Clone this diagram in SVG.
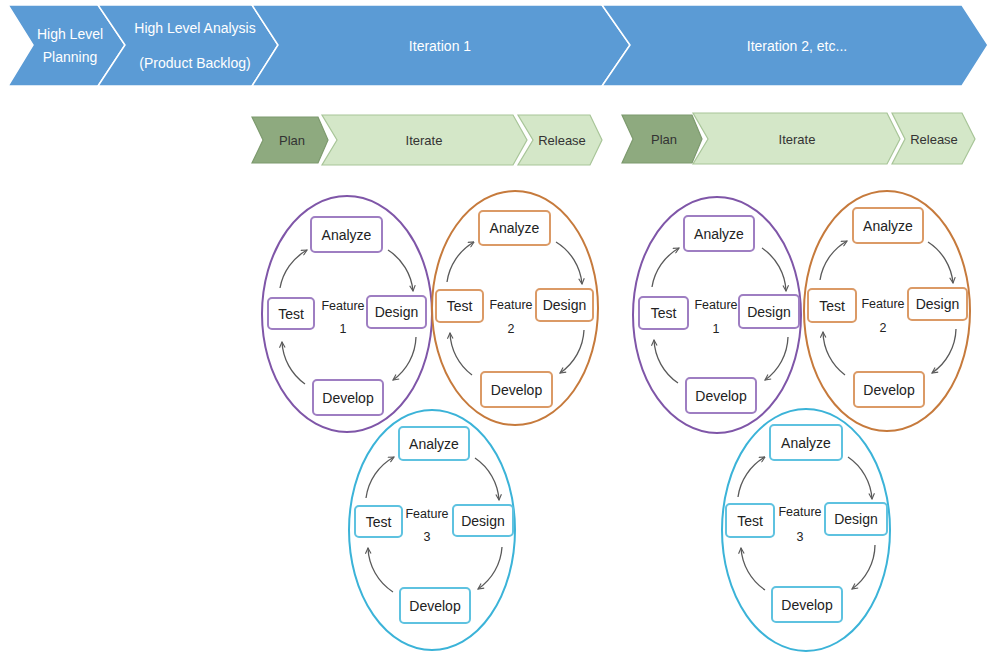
<svg xmlns="http://www.w3.org/2000/svg" width="989" height="653" viewBox="0 0 989 653">
<style>
.band{fill:#5B9BD5;stroke:#FFFFFF;stroke-width:1.5}
.bt{fill:#FFFFFF;font-family:"Liberation Sans",Arial,sans-serif;font-size:14px;text-anchor:middle}
.plan{fill:#8EAA7F;stroke:#7D9A6E;stroke-width:1.2}
.it{fill:#D4E7C8;stroke:#A8C598;stroke-width:1.2}
.gt{fill:#333333;font-family:"Liberation Sans",Arial,sans-serif;font-size:13px;text-anchor:middle}
.bx{fill:#FFFFFF;stroke-width:2}
.t{fill:#222222;font-family:"Liberation Sans",Arial,sans-serif;font-size:14px;text-anchor:middle}
.ft{fill:#222222;font-family:"Liberation Sans",Arial,sans-serif;font-size:12.5px;text-anchor:middle}
.ep{fill:none;stroke:#7F56A8;stroke-width:2}
.eo{fill:none;stroke:#C67A3C;stroke-width:2}
.ec{fill:none;stroke:#3BB3D8;stroke-width:2}
.p .bx{stroke:#9E7EC2}
.o .bx{stroke:#DB9A66}
.c .bx{stroke:#5EC2E0}
.arr{fill:none;stroke:#595959;stroke-width:1.3;marker-end:url(#ah)}
</style>
<defs>
<marker id="ah" viewBox="0 0 10 10" refX="9" refY="5" markerWidth="7" markerHeight="7" markerUnits="userSpaceOnUse" orient="auto">
<path d="M1,1 L9,5 L1,9" fill="none" stroke="#595959" stroke-width="1.6"/>
</marker>
</defs>
<rect width="989" height="653" fill="#FFFFFF"/>

<g id="phases">
<g id="phase-planning"><path class="band" d="M8,5 L98,5 L125,45 L98,86 L8,86 L33,45 Z"/><text class="bt" x="70" y="39">High Level</text><text class="bt" x="70" y="62">Planning</text></g>
<g id="phase-analysis"><path class="band" d="M98,5 L252,5 L278,45 L252,86 L98,86 L125,45 Z"/><text class="bt" x="195" y="33">High Level Analysis</text><text class="bt" x="195" y="68">(Product Backlog)</text></g>
<g id="phase-iter1"><path class="band" d="M252,5 L602,5 L630,45 L602,86 L252,86 L278,45 Z"/><text class="bt" x="440" y="51">Iteration 1</text></g>
<g id="phase-iter2"><path class="band" d="M602,5 L962,5 L988,45 L962,86 L602,86 L630,45 Z"/><text class="bt" x="797" y="51">Iteration 2, etc...</text></g>
</g>

<g id="steps1">
<g id="s1-plan"><path class="plan" d="M252,117 L318,117 L328,140 L318,163 L252,163 L263,140 Z"/><text class="gt" x="292" y="145">Plan</text></g>
<g id="s1-iterate"><path class="it" d="M322,115 L513,115 L527,140 L513,165 L322,165 L337,140 Z"/><text class="gt" x="424" y="145">Iterate</text></g>
<g id="s1-release"><path class="it" d="M518,115 L590,115 L602,140 L590,165 L518,165 L533,140 Z"/><text class="gt" x="562" y="145">Release</text></g>
</g>
<g id="steps2">
<g id="s2-plan"><path class="plan" d="M622,115 L692,115 L702,139 L692,163 L622,163 L633,139 Z"/><text class="gt" x="664" y="144">Plan</text></g>
<g id="s2-iterate"><path class="it" d="M693,113 L887,113 L900,139 L887,164 L693,164 L708,139 Z"/><text class="gt" x="797" y="144">Iterate</text></g>
<g id="s2-release"><path class="it" d="M892,113 L962,113 L975,139 L962,164 L892,164 L905,139 Z"/><text class="gt" x="934" y="144">Release</text></g>
</g>

<g id="ellipses">
<ellipse id="L-F1-ring" class="ep" cx="347" cy="314" rx="85" ry="118"/>
<ellipse id="L-F2-ring" class="eo" cx="515" cy="308" rx="83" ry="117"/>
<ellipse id="L-F3-ring" class="ec" cx="432" cy="530" rx="83" ry="120"/>
<ellipse id="R-F1-ring" class="ep" cx="717" cy="315" rx="84" ry="118"/>
<ellipse id="R-F2-ring" class="eo" cx="887" cy="311" rx="83" ry="120"/>
<ellipse id="R-F3-ring" class="ec" cx="806" cy="530" rx="84" ry="121"/>
</g>

<g id="connectors">
<path class="arr" d="M388,250 A55,55 0 0 1 413,291"/>
<path class="arr" d="M416,337 A55,55 0 0 1 393,380"/>
<path class="arr" d="M305,384 A55,55 0 0 1 282,342"/>
<path class="arr" d="M280,288 A55,55 0 0 1 307,250"/>

<path class="arr" d="M556,242 A55,55 0 0 1 582,284"/>
<path class="arr" d="M584,330 A55,55 0 0 1 560,373"/>
<path class="arr" d="M472,375 A55,55 0 0 1 450,333"/>
<path class="arr" d="M447,282 A55,55 0 0 1 474,242"/>

<path class="arr" d="M475,458 A55,55 0 0 1 499,500"/>
<path class="arr" d="M502,547 A55,55 0 0 1 478,589"/>
<path class="arr" d="M393,592 A55,55 0 0 1 368,548"/>
<path class="arr" d="M366,498 A55,55 0 0 1 394,457"/>

<path class="arr" d="M762,248 A55,55 0 0 1 786,291"/>
<path class="arr" d="M788,337 A55,55 0 0 1 765,380"/>
<path class="arr" d="M678,383 A55,55 0 0 1 654,340"/>
<path class="arr" d="M652,287 A55,55 0 0 1 679,248"/>

<path class="arr" d="M928,242 A55,55 0 0 1 953,283"/>
<path class="arr" d="M956,329 A55,55 0 0 1 932,373"/>
<path class="arr" d="M845,375 A55,55 0 0 1 823,332"/>
<path class="arr" d="M820,280 A55,55 0 0 1 847,241"/>

<path class="arr" d="M848,457 A55,55 0 0 1 872,499"/>
<path class="arr" d="M875,545 A55,55 0 0 1 852,589"/>
<path class="arr" d="M765,590 A55,55 0 0 1 741,548"/>
<path class="arr" d="M738,497 A55,55 0 0 1 765,457"/>
</g>

<g id="L-F1" class="p">
<text class="ft" x="343" y="310">Feature</text><text class="ft" x="343" y="333">1</text>
<g id="L-F1-analyze"><rect class="bx" x="311" y="217" width="71" height="35" rx="4"/><text class="t" x="346.5" y="239.5">Analyze</text></g>
<g id="L-F1-test"><rect class="bx" x="268" y="298" width="46" height="31" rx="4"/><text class="t" x="291" y="318.5">Test</text></g>
<g id="L-F1-design"><rect class="bx" x="367" y="296" width="59" height="32" rx="4"/><text class="t" x="396.5" y="317">Design</text></g>
<g id="L-F1-develop"><rect class="bx" x="313" y="380" width="70" height="35" rx="4"/><text class="t" x="348" y="402.5">Develop</text></g>
</g>

<g id="L-F2" class="o">
<text class="ft" x="511" y="309">Feature</text><text class="ft" x="511" y="333">2</text>
<g id="L-F2-analyze"><rect class="bx" x="479" y="211" width="71" height="34" rx="4"/><text class="t" x="514.5" y="233">Analyze</text></g>
<g id="L-F2-test"><rect class="bx" x="436" y="290" width="47" height="32" rx="4"/><text class="t" x="459.5" y="311">Test</text></g>
<g id="L-F2-design"><rect class="bx" x="536" y="289" width="57" height="32" rx="4"/><text class="t" x="564.5" y="310">Design</text></g>
<g id="L-F2-develop"><rect class="bx" x="481" y="372" width="71" height="35" rx="4"/><text class="t" x="516.5" y="394.5">Develop</text></g>
</g>

<g id="L-F3" class="c">
<text class="ft" x="427" y="518">Feature</text><text class="ft" x="427" y="541">3</text>
<g id="L-F3-analyze"><rect class="bx" x="399" y="427" width="70" height="33" rx="4"/><text class="t" x="434" y="448.5">Analyze</text></g>
<g id="L-F3-test"><rect class="bx" x="355" y="506" width="47" height="31" rx="4"/><text class="t" x="378.5" y="526.5">Test</text></g>
<g id="L-F3-design"><rect class="bx" x="453" y="505" width="60" height="31" rx="4"/><text class="t" x="483" y="525.5">Design</text></g>
<g id="L-F3-develop"><rect class="bx" x="400" y="588" width="70" height="35" rx="4"/><text class="t" x="435" y="610.5">Develop</text></g>
</g>

<g id="R-F1" class="p">
<text class="ft" x="716" y="309">Feature</text><text class="ft" x="716" y="333">1</text>
<g id="R-F1-analyze"><rect class="bx" x="684" y="216" width="70" height="35" rx="4"/><text class="t" x="719" y="238.5">Analyze</text></g>
<g id="R-F1-test"><rect class="bx" x="639" y="297" width="49" height="32" rx="4"/><text class="t" x="663.5" y="318">Test</text></g>
<g id="R-F1-design"><rect class="bx" x="739" y="295" width="60" height="33" rx="4"/><text class="t" x="769" y="316.5">Design</text></g>
<g id="R-F1-develop"><rect class="bx" x="686" y="378" width="70" height="35" rx="4"/><text class="t" x="721" y="400.5">Develop</text></g>
</g>

<g id="R-F2" class="o">
<text class="ft" x="883" y="308">Feature</text><text class="ft" x="883" y="332">2</text>
<g id="R-F2-analyze"><rect class="bx" x="853" y="208" width="70" height="35" rx="4"/><text class="t" x="888" y="230.5">Analyze</text></g>
<g id="R-F2-test"><rect class="bx" x="808" y="289" width="48" height="33" rx="4"/><text class="t" x="832" y="310.5">Test</text></g>
<g id="R-F2-design"><rect class="bx" x="908" y="288" width="59" height="32" rx="4"/><text class="t" x="937.5" y="309">Design</text></g>
<g id="R-F2-develop"><rect class="bx" x="854" y="372" width="70" height="35" rx="4"/><text class="t" x="889" y="394.5">Develop</text></g>
</g>

<g id="R-F3" class="c">
<text class="ft" x="800" y="516">Feature</text><text class="ft" x="800" y="541">3</text>
<g id="R-F3-analyze"><rect class="bx" x="770" y="425" width="72" height="35" rx="4"/><text class="t" x="806" y="447.5">Analyze</text></g>
<g id="R-F3-test"><rect class="bx" x="726" y="504" width="48" height="33" rx="4"/><text class="t" x="750" y="525.5">Test</text></g>
<g id="R-F3-design"><rect class="bx" x="825" y="503" width="62" height="32" rx="4"/><text class="t" x="856" y="524">Design</text></g>
<g id="R-F3-develop"><rect class="bx" x="772" y="587" width="70" height="35" rx="4"/><text class="t" x="807" y="609.5">Develop</text></g>
</g>
</svg>
